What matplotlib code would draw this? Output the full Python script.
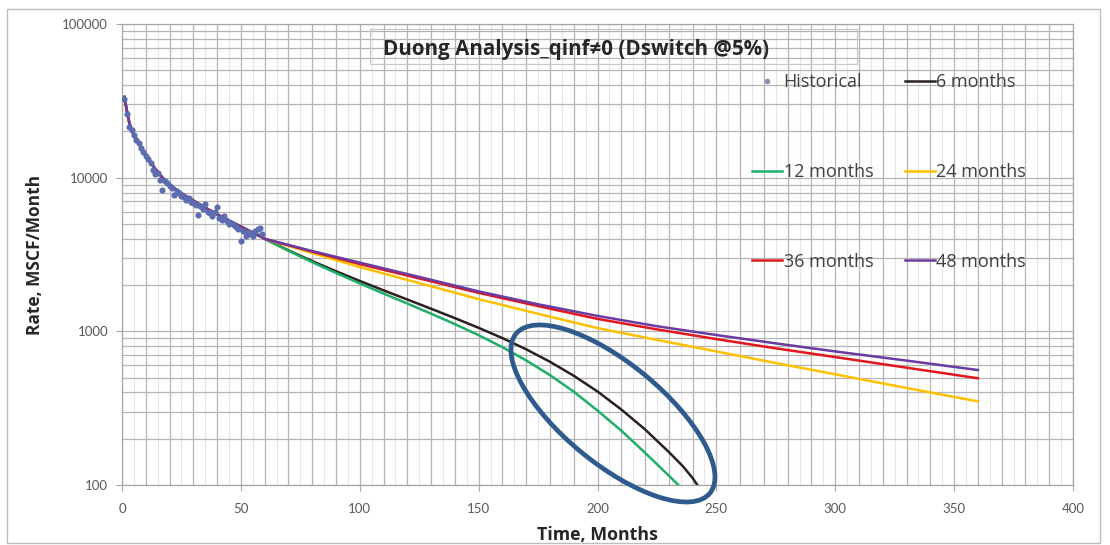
import numpy as np
import matplotlib
matplotlib.use("Agg")
import matplotlib.pyplot as plt
from matplotlib.lines import Line2D
from matplotlib.patches import Ellipse, Rectangle
from matplotlib.transforms import IdentityTransform
from matplotlib.ticker import MultipleLocator, LogLocator, NullFormatter, FixedLocator

# ---------------- data ----------------
# Monthly historical gas rate (MSCF/Month)
hist_t = list(range(1, 60))
hist_q = [32500, 26000, 21500, 20500, 19000, 17500, 16800, 15500, 14800, 13800,
          13200, 12400, 11200, 10600, 10800, 9700, 8300, 9500, 9300, 8800,
          8600, 7700, 8200, 8000, 7600, 7500, 7200, 7400, 6900, 6800,
          6600, 5700, 6500, 6300, 6700, 6000, 5900, 5600, 6000, 6400,
          5500, 5300, 5600, 5200, 5000, 5100, 4900, 4800, 4600, 3900,
          4500, 4200, 4400, 4300, 4200, 4500, 4600, 4700, 4300]

# Common Duong fit through the history period
fit_t = [1, 2, 3, 4, 5, 6, 8, 10, 12, 14, 17, 20, 24, 28, 33, 38, 43, 48, 53, 57]
fit_q = [33500, 27500, 23000, 20500, 18900, 17700, 15800, 14100, 12600, 11400,
         10000, 9000, 8100, 7400, 6650, 6000, 5450, 4980, 4550, 4250]

# Forecasts by length of history used for the fit
m6_t = [60, 70, 80, 90, 100, 110, 120, 130, 140, 150, 160, 170, 180, 190,
        200, 210, 220, 230, 236, 240, 242]
m6_q = [4000, 3365, 2864, 2460, 2128, 1849, 1611, 1403, 1219, 1054, 904, 764,
        634, 514, 406, 310, 230, 164, 132, 111, 100]

m12_t = [60, 70, 80, 90, 100, 110, 120, 130, 140, 150, 160, 170, 180, 190,
         200, 210, 220, 230, 234]
m12_q = [4000, 3342, 2818, 2399, 2051, 1762, 1517, 1303, 1114, 944, 789, 647,
         519, 405, 305, 226, 162, 115, 100]

long_t = [60, 80, 100, 125, 150, 175, 200, 225, 250, 275, 300, 330, 360]
m24_q = [4000, 3230, 2620, 2060, 1620, 1300, 1050, 880, 740, 622, 525, 428, 350]
m36_q = [4000, 3300, 2740, 2210, 1780, 1460, 1205, 1030, 890, 775, 680, 580, 495]
m48_q = [4000, 3330, 2800, 2260, 1820, 1500, 1260, 1080, 946, 835, 740, 645, 560]

# Region of the early-terminating forecasts that is highlighted
focus_t, focus_q = 206.5, 292

x_ticks = [0, 50, 100, 150, 200, 250, 300, 350, 400]
y_ticks = [100, 1000, 10000, 100000]

TEXT_FONT = ["Open Sans", "DejaVu Sans"]
TICK_FONT = ["Lato", "DejaVu Sans"]

# ---------------- figure ----------------
W, H = 1110, 545
fig = plt.figure(figsize=(W / 100, H / 100), dpi=100)
fig.patch.set_facecolor("white")
ax = fig.add_axes([122 / W, 1 - 485 / H, (1073 - 122) / W, (485 - 24) / H])

ax.set_yscale("log")
ax.set_xlim(0, 400)
ax.set_ylim(100, 100000)

# grid
ax.xaxis.set_major_locator(FixedLocator(x_ticks))
ax.xaxis.set_minor_locator(MultipleLocator(5))
ax.yaxis.set_major_locator(FixedLocator(y_ticks))
ax.yaxis.set_minor_locator(LogLocator(base=10, subs=np.arange(2, 10)))
ax.yaxis.set_minor_formatter(NullFormatter())
ax.set_yticklabels([str(v) for v in y_ticks])
ax.set_xticklabels([str(v) for v in x_ticks])

for xv in np.arange(0, 401, 5):
    if xv % 10 == 0:
        ax.axvline(xv, color="#b4b4b4", lw=0.9, zorder=0)
    else:
        ax.axvline(xv, color="#e6e6e6", lw=0.8, zorder=0)
for dec in [100, 1000, 10000]:
    for s in range(1, 10):
        ax.axhline(dec * s, color="#b4b4b4", lw=0.9, zorder=0)
ax.axhline(100000, color="#b4b4b4", lw=0.9, zorder=0)

for sp in ax.spines.values():
    sp.set_color("#a6a6a6")
    sp.set_linewidth(0.9)

ax.tick_params(which="major", direction="out", length=4, width=0.8,
               color="#a6a6a6", labelcolor="#595959", labelsize=9.5)
ax.tick_params(axis="y", which="major", pad=6)
ax.tick_params(axis="x", which="major", pad=9)
ax.tick_params(which="minor", length=0)
for lab in ax.get_xticklabels() + ax.get_yticklabels():
    lab.set_family(TICK_FONT)

# series
lw = 1.8
c6, c12, c24, c36, c48 = "#2b1f1f", "#1fae68", "#ffc000", "#e2161c", "#6a3ba3"
hist_c = "#5b6cb0"

ax.plot(fit_t + m6_t, fit_q + m6_q, color=c6, lw=lw, zorder=3)
ax.plot(fit_t + m12_t, fit_q + m12_q, color=c12, lw=lw, zorder=3)
ax.plot(fit_t + long_t, fit_q + m24_q, color=c24, lw=lw, zorder=3)
ax.plot(fit_t + long_t, fit_q + m36_q, color=c36, lw=lw, zorder=3)
ax.plot(fit_t + long_t, fit_q + m48_q, color=c48, lw=lw, zorder=3)
ax.plot(hist_t, hist_q, ls="none", marker="o", ms=3.4, color=hist_c,
        mec=hist_c, zorder=4)

# axis titles
ax.set_xlabel("Time, Months", fontsize=12.8, fontweight="bold",
              family=TEXT_FONT, color="#262626", labelpad=8)
ax.set_ylabel("Rate, MSCF/Month", fontsize=12.5, fontweight="bold",
              family=TEXT_FONT, color="#262626", labelpad=13)

# chart title in an outlined box
fig.add_artist(Rectangle((370 / W, 1 - 64 / H), (857 - 370) / W, 35 / H,
                         transform=fig.transFigure, fill=False,
                         ec="#c8c8c8", lw=0.9))
fig.text(383 / W, 1 - 50 / H, "Duong Analysis_qinf\u22600 (Dswitch @5%)",
         ha="left", va="center", fontsize=14.9, fontweight="bold",
         family=TEXT_FONT, color="#262626")

# legend
handles = [
    Line2D([], [], ls="none", marker="o", ms=3, color="#8a8fb0"),
    Line2D([], [], color=c12, lw=lw),
    Line2D([], [], color=c36, lw=lw),
    Line2D([], [], color=c6, lw=lw),
    Line2D([], [], color=c24, lw=lw),
    Line2D([], [], color=c48, lw=lw),
]
labels = ["Historical", "12 months", "36 months", "6 months", "24 months", "48 months"]
leg = fig.legend(handles, labels, loc="upper left",
                 bbox_to_anchor=(752 / W, 1 - 73 / H), ncol=2, frameon=False,
                 borderpad=0, borderaxespad=0, handlelength=1.65,
                 handletextpad=0.1, columnspacing=1.75, labelspacing=3.98,
                 prop={"family": TEXT_FONT, "size": 13})
for t in leg.get_texts():
    t.set_color("#404040")

# highlight ellipse around the early-terminating forecasts
fig.canvas.draw()
cx, cy = ax.transData.transform((focus_t, focus_q))
ell = Ellipse((cx, cy), width=251, height=100, angle=-39.4, fill=False,
              ec="#2e5a8e", lw=3.4, transform=IdentityTransform(), zorder=6)
fig.add_artist(ell)

# outer chart frame
fig.add_artist(Rectangle((7 / W, 2 / H), (1100 - 7) / W, (536 - 2) / H,
                         transform=fig.transFigure, fill=False,
                         ec="#bdbdbd", lw=1.0))

fig.savefig("out.png", dpi=100, facecolor="white")
